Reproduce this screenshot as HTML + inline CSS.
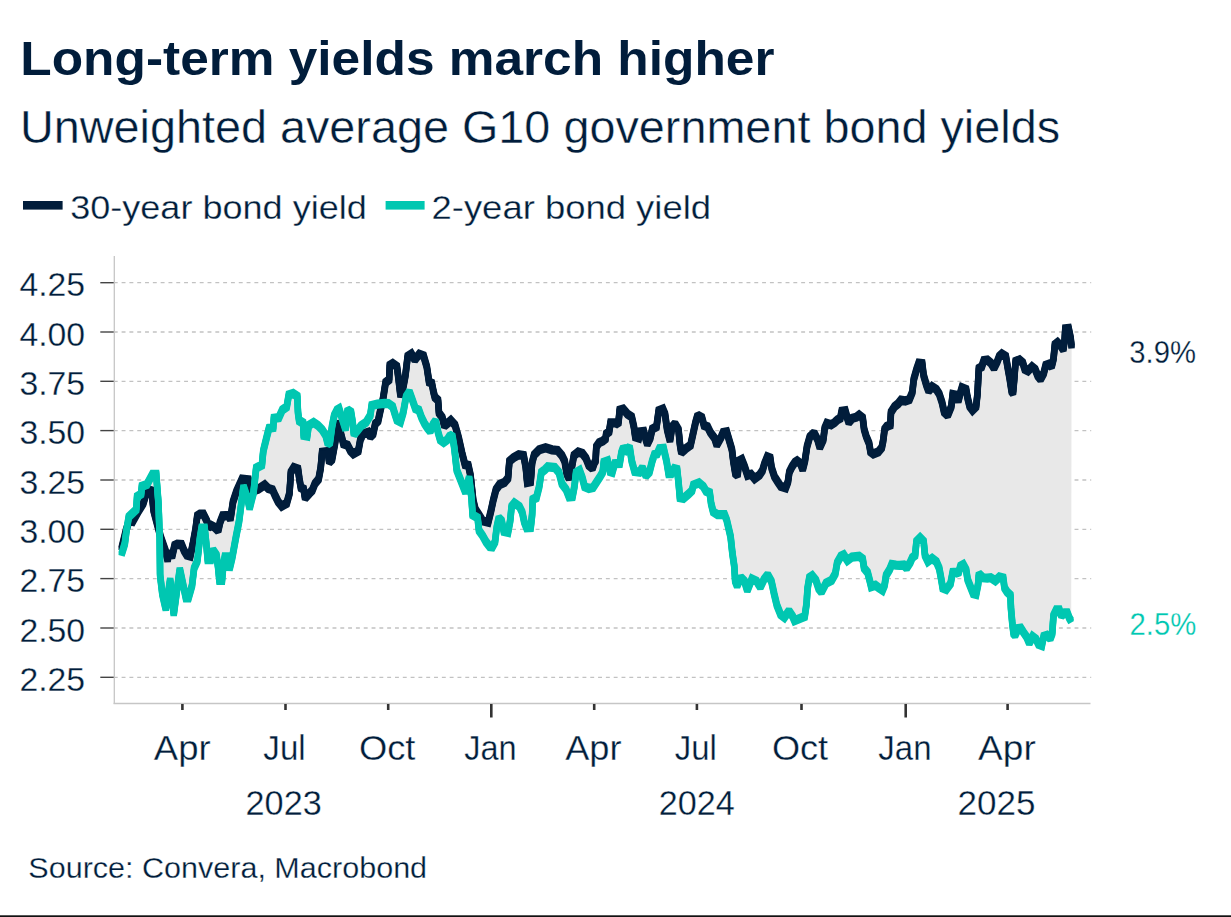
<!DOCTYPE html>
<html><head><meta charset="utf-8"><title>Long-term yields march higher</title>
<style>html,body{margin:0;padding:0;background:#fff}body{width:1231px;height:917px;overflow:hidden}</style></head>
<body>
<svg width="1231" height="917" viewBox="0 0 1231 917" style="display:block;font-family:'Liberation Sans',sans-serif">
<rect width="1231" height="917" fill="#fff"/>
<line x1="113.8" x2="1091.2" y1="282.7" y2="282.7" stroke="#c2c2c2" stroke-width="1.3" stroke-dasharray="3.9 3.911"/>
<line x1="113.8" x2="1091.2" y1="332.0" y2="332.0" stroke="#c2c2c2" stroke-width="1.3" stroke-dasharray="3.9 3.911"/>
<line x1="113.8" x2="1091.2" y1="381.3" y2="381.3" stroke="#c2c2c2" stroke-width="1.3" stroke-dasharray="3.9 3.911"/>
<line x1="113.8" x2="1091.2" y1="430.6" y2="430.6" stroke="#c2c2c2" stroke-width="1.3" stroke-dasharray="3.9 3.911"/>
<line x1="113.8" x2="1091.2" y1="480.0" y2="480.0" stroke="#c2c2c2" stroke-width="1.3" stroke-dasharray="3.9 3.911"/>
<line x1="113.8" x2="1091.2" y1="529.3" y2="529.3" stroke="#c2c2c2" stroke-width="1.3" stroke-dasharray="3.9 3.911"/>
<line x1="113.8" x2="1091.2" y1="578.6" y2="578.6" stroke="#c2c2c2" stroke-width="1.3" stroke-dasharray="3.9 3.911"/>
<line x1="113.8" x2="1091.2" y1="628.0" y2="628.0" stroke="#c2c2c2" stroke-width="1.3" stroke-dasharray="3.9 3.911"/>
<line x1="113.8" x2="1091.2" y1="677.3" y2="677.3" stroke="#c2c2c2" stroke-width="1.3" stroke-dasharray="3.9 3.911"/>
<path d="M121.5,549.0 L126.2,529.8 L129.2,520.7 L132.7,521.4 L138.8,510.6 L143.2,503.6 L145.8,494.9 L149.3,491.4 L151.4,488.8 L153.6,510.6 L160.6,536.8 L165.5,550.8 L167.6,560.3 L169.3,551.6 L172.0,556.9 L174.6,545.5 L177.2,544.3 L181.6,544.6 L184.2,550.8 L186.8,555.1 L190.3,556.0 L192.9,543.8 L195.5,529.8 L197.3,515.8 L199.9,514.1 L203.4,514.1 L206.9,521.1 L208.6,527.2 L211.2,525.4 L214.7,527.2 L218.2,530.7 L219.9,522.8 L222.6,515.8 L228.7,515.5 L230.4,519.3 L233.0,501.9 L236.5,491.4 L242.0,479.2 L248.4,479.9 L249.8,492.0 L258.3,489.1 L264.7,484.9 L268.3,488.4 L272.5,489.8 L275.4,496.2 L278.2,501.9 L281.7,506.1 L286.7,503.3 L289.5,493.4 L290.9,472.1 L293.8,467.6 L298.0,469.0 L299.4,479.2 L300.9,487.7 L303.7,489.1 L305.1,498.3 L309.4,493.4 L312.2,490.5 L315.0,483.5 L318.6,479.2 L320.7,467.9 L322.1,452.3 L327.8,451.6 L329.2,462.2 L332.0,459.4 L334.9,443.8 L338.4,421.8 L340.5,432.4 L343.4,443.8 L347.6,445.2 L350.5,450.9 L353.3,453.7 L358.3,450.9 L360.4,439.5 L363.2,433.9 L368.2,432.4 L370.3,436.7 L373.1,433.9 L375.3,423.9 L378.1,421.1 L380.2,411.2 L383.1,398.4 L385.6,382.5 L389.1,379.7 L389.8,365.2 L392.7,363.5 L396.9,366.4 L398.3,376.8 L399.8,389.6 L400.5,396.0 L403.3,386.8 L405.4,375.4 L407.7,356.3 L411.4,353.9 L414.8,359.8 L419.2,354.2 L423.6,355.9 L426.8,366.8 L429.1,382.1 L431.8,383.2 L433.5,391.9 L434.9,397.4 L438.0,400.2 L439.0,413.0 L442.3,417.5 L444.4,426.0 L447.2,423.6 L450.8,420.5 L455.0,425.0 L458.6,437.8 L462.1,453.4 L465.0,464.7 L468.3,465.4 L470.5,475.4 L473.3,500.9 L475.4,509.4 L479.0,515.0 L482.5,520.7 L488.2,522.1 L491.0,510.8 L493.1,500.9 L496.0,489.5 L499.5,484.6 L504.5,482.4 L508.0,478.2 L509.4,461.2 L513.7,457.6 L518.7,454.8 L523.6,455.5 L525.7,466.8 L527.2,482.4 L530.7,481.7 L532.1,462.6 L534.2,454.8 L539.2,449.8 L545.6,447.7 L552.0,449.8 L557.6,450.5 L561.9,455.5 L564.7,461.2 L566.8,473.9 L569.0,478.5 L571.1,471.1 L573.9,455.5 L578.2,452.0 L582.4,453.4 L586.0,458.3 L588.8,465.4 L592.4,468.5 L594.5,462.6 L595.6,460.9 L596.3,446.7 L599.1,442.7 L602.7,441.0 L605.5,438.9 L606.2,433.9 L609.1,431.8 L610.5,422.9 L615.4,422.9 L618.3,424.0 L619.7,410.1 L623.2,409.1 L627.5,414.1 L631.7,416.9 L633.9,426.8 L635.3,436.8 L638.8,437.9 L640.2,431.8 L643.8,431.4 L645.9,439.6 L647.3,444.1 L650.2,438.2 L652.3,429.0 L656.5,426.8 L658.7,410.8 L662.9,409.1 L665.0,414.1 L667.2,429.7 L670.0,440.7 L672.1,426.8 L675.0,423.7 L678.5,429.7 L679.9,443.9 L681.3,452.6 L685.6,448.8 L690.5,445.3 L692.7,435.4 L695.5,422.6 L697.6,415.2 L701.9,417.6 L704.0,425.4 L707.6,426.8 L710.4,432.5 L714.6,438.2 L716.8,445.0 L721.0,437.5 L723.1,432.5 L726.7,431.8 L731.9,449.5 L733.3,460.9 L735.4,473.6 L737.6,475.5 L739.0,460.9 L741.8,459.4 L744.6,466.5 L747.5,475.3 L751.0,474.3 L754.6,478.6 L759.5,475.0 L762.4,470.8 L764.5,463.7 L767.3,456.9 L770.2,458.0 L771.6,467.9 L774.4,476.5 L777.9,482.1 L780.8,486.4 L785.7,487.8 L787.9,482.1 L789.3,472.2 L792.1,466.5 L795.0,462.3 L797.1,460.9 L800.6,463.7 L802.7,469.6 L804.9,460.9 L807.0,446.7 L809.8,436.8 L814.1,432.8 L817.6,439.6 L819.8,447.4 L823.3,439.6 L824.7,428.3 L826.8,423.3 L831.1,424.7 L834.6,422.6 L837.5,419.8 L840.3,418.3 L841.7,411.3 L845.3,410.8 L847.4,418.3 L848.8,422.6 L852.4,418.3 L856.3,417.2 L859.1,415.0 L862.7,417.9 L864.1,429.2 L866.2,436.3 L869.1,443.4 L870.5,451.9 L873.3,454.0 L878.3,451.9 L881.8,447.6 L883.2,440.5 L884.6,429.2 L886.8,426.4 L890.3,425.0 L891.0,412.2 L894.6,406.5 L898.1,403.7 L900.9,400.2 L905.2,400.9 L909.4,399.4 L912.3,392.4 L913.7,379.6 L916.5,369.7 L918.7,363.3 L922.2,363.7 L923.6,375.4 L926.5,385.3 L928.6,390.9 L932.1,386.7 L936.4,389.5 L939.2,393.8 L942.0,402.3 L944.2,412.2 L947.7,415.5 L951.3,406.5 L952.7,394.5 L956.2,395.2 L958.3,401.1 L960.5,392.4 L961.9,387.7 L966.1,389.5 L967.6,398.0 L969.7,406.5 L972.5,410.1 L976.1,406.5 L977.5,393.8 L978.2,379.6 L978.9,368.3 L981.7,366.8 L983.8,360.5 L987.4,360.0 L990.7,362.8 L994.0,368.3 L997.3,361.5 L999.3,356.3 L1001.9,353.9 L1005.8,356.3 L1007.8,368.0 L1009.7,378.5 L1011.7,391.6 L1013.0,393.2 L1014.3,378.5 L1015.6,361.5 L1019.5,359.9 L1022.8,362.8 L1024.8,369.3 L1028.0,370.9 L1032.0,366.7 L1035.2,369.3 L1037.8,375.9 L1040.5,379.2 L1043.7,373.3 L1045.7,365.4 L1049.0,364.1 L1051.6,366.7 L1053.5,358.9 L1054.9,344.5 L1057.5,342.5 L1060.7,345.8 L1063.4,349.7 L1064.7,339.3 L1065.3,328.8 L1068.6,328.4 L1070.6,337.9 L1071.6,347.1 L1071.2,621.3 L1069.3,618.0 L1067.3,612.8 L1064.7,612.8 L1061.4,615.7 L1059.4,609.9 L1056.2,609.9 L1053.5,615.4 L1052.2,633.7 L1050.3,638.7 L1047.0,635.3 L1043.7,636.4 L1041.8,645.5 L1038.5,644.2 L1035.9,639.0 L1032.6,636.6 L1029.3,643.2 L1026.7,637.0 L1023.5,632.4 L1020.8,628.1 L1018.2,628.5 L1015.0,635.4 L1013.6,633.7 L1012.3,623.3 L1011.0,608.9 L1010.4,595.1 L1007.1,591.9 L1004.5,587.9 L1003.2,578.1 L999.3,577.1 L995.3,580.7 L990.7,577.7 L987.4,578.1 L983.1,577.8 L978.9,573.9 L978.2,583.8 L976.1,594.4 L973.2,593.7 L970.4,586.6 L967.6,579.5 L966.1,569.6 L963.3,564.6 L960.5,566.1 L958.3,573.6 L956.2,572.2 L952.7,572.4 L950.5,583.8 L946.3,589.4 L942.7,588.0 L941.3,579.5 L939.2,568.2 L936.4,561.8 L932.1,558.5 L927.9,561.4 L925.0,555.4 L923.6,541.3 L920.1,537.7 L916.5,541.3 L915.1,555.4 L912.3,557.6 L910.2,562.5 L906.6,568.2 L903.8,565.1 L899.5,565.4 L896.0,565.1 L891.7,564.5 L889.6,569.6 L886.1,575.3 L884.6,585.2 L882.5,590.2 L879.0,588.0 L875.4,585.2 L871.2,586.6 L869.8,580.9 L867.6,572.4 L864.1,568.2 L862.7,559.0 L859.1,556.3 L852.0,557.1 L847.4,560.5 L843.7,554.9 L840.9,556.2 L837.2,562.7 L835.3,573.8 L831.6,580.3 L826.1,583.1 L821.4,592.0 L818.7,588.7 L815.9,580.3 L812.2,575.7 L809.4,577.5 L807.5,588.7 L806.6,603.5 L804.7,616.5 L800.1,618.3 L794.5,620.7 L792.7,616.5 L789.0,610.9 L784.4,617.4 L780.6,614.6 L776.9,605.3 L774.2,594.2 L771.4,581.2 L767.7,574.7 L764.0,579.4 L760.3,587.2 L756.5,581.2 L751.9,579.0 L747.3,590.5 L744.5,581.2 L740.8,577.5 L737.1,585.9 L735.2,581.2 L734.3,566.4 L732.4,553.4 L730.6,536.7 L726.7,520.0 L724.6,514.7 L717.5,514.7 L713.2,511.9 L711.1,503.4 L709.7,492.7 L706.1,491.3 L703.3,486.4 L699.0,482.8 L693.4,485.0 L692.0,490.6 L688.4,494.2 L683.5,498.4 L679.9,497.7 L678.5,482.1 L677.1,469.4 L674.2,468.7 L671.4,473.6 L668.6,473.6 L666.5,460.9 L663.6,448.4 L659.4,448.8 L657.2,453.8 L654.4,454.5 L652.3,460.9 L649.4,472.2 L645.9,475.7 L642.4,467.7 L639.5,472.2 L634.6,471.5 L631.7,460.9 L629.6,447.0 L626.1,450.2 L623.2,447.8 L621.5,452.4 L619.7,463.4 L614.7,463.7 L612.3,472.2 L610.0,471.5 L607.6,460.9 L603.8,462.3 L602.7,472.2 L599.8,477.2 L593.1,487.4 L588.8,488.4 L584.6,486.7 L582.4,478.2 L579.6,470.4 L576.1,472.5 L574.4,486.7 L572.5,496.6 L569.0,496.9 L566.1,489.5 L561.9,483.9 L559.0,472.5 L554.8,467.6 L547.7,466.8 L544.9,469.7 L541.3,472.5 L539.2,486.7 L536.4,497.7 L532.8,499.4 L532.1,515.0 L530.7,527.5 L526.5,527.8 L524.3,522.1 L522.2,512.2 L519.4,506.5 L514.4,503.0 L511.6,506.5 L510.2,520.7 L508.0,532.3 L503.8,531.3 L501.6,520.7 L498.8,517.9 L496.7,527.8 L495.0,542.0 L492.4,546.9 L489.6,546.5 L486.1,542.0 L482.5,535.6 L479.0,530.6 L477.6,517.9 L472.6,515.0 L471.5,498.0 L469.1,477.5 L465.5,492.4 L456.7,470.0 L455.7,460.5 L454.3,447.7 L452.2,435.2 L449.4,436.4 L447.2,439.9 L443.7,442.3 L440.2,439.9 L438.0,432.1 L435.6,420.8 L433.1,424.3 L430.2,431.4 L427.4,427.9 L424.6,423.6 L421.7,417.9 L418.9,410.2 L415.4,408.7 L412.2,399.5 L409.4,391.7 L406.1,396.7 L403.3,412.3 L400.5,421.9 L396.9,420.1 L394.8,413.7 L392.7,406.6 L388.4,403.5 L384.5,403.4 L377.4,404.1 L371.7,405.5 L370.3,415.4 L366.1,422.4 L361.0,425.9 L357.6,430.3 L353.9,434.6 L352.7,422.5 L351.0,412.0 L347.6,409.8 L345.6,429.3 L343.4,422.5 L339.1,408.8 L337.0,410.0 L334.2,415.4 L332.0,426.8 L329.9,442.4 L327.8,443.8 L325.7,435.3 L322.1,429.6 L317.9,425.4 L313.6,422.5 L308.7,425.4 L307.2,436.0 L303.7,435.3 L303.0,421.1 L299.4,422.5 L298.0,412.6 L297.3,396.3 L293.1,393.5 L288.8,394.9 L286.7,406.9 L282.4,409.8 L278.9,417.6 L273.9,418.3 L273.2,427.5 L269.0,428.2 L266.8,436.7 L263.3,450.9 L261.9,465.0 L256.2,467.9 L253.4,493.4 L251.5,500.5 L249.6,508.3 L247.7,499.0 L243.5,486.3 L239.1,521.1 L235.7,538.5 L232.2,557.7 L229.5,569.1 L227.3,556.9 L224.8,556.9 L223.4,564.7 L222.0,580.4 L219.4,580.4 L218.2,568.2 L216.5,555.1 L213.0,549.9 L210.9,559.5 L207.7,559.5 L206.3,543.8 L204.6,528.1 L201.6,528.1 L199.9,538.5 L197.3,561.2 L194.1,568.2 L192.0,585.7 L188.5,597.9 L185.9,597.9 L179.8,569.1 L173.7,614.5 L170.2,579.5 L165.8,609.2 L162.4,594.4 L160.1,575.2 L159.7,538.5 L158.5,503.6 L156.2,474.3 L152.4,474.3 L147.0,484.4 L141.9,486.2 L141.1,494.0 L137.1,496.6 L136.2,509.7 L128.8,516.7 L126.6,529.8 L124.8,543.8 L121.5,554.5 Z" fill="#e8e8e8" stroke="none"/>
<line x1="114.3" x2="114.3" y1="256" y2="704" stroke="#c6c6c6" stroke-width="1.3"/>
<line x1="113.6" x2="1090.5" y1="703.5" y2="703.5" stroke="#c6c6c6" stroke-width="1.3"/>
<line x1="100.3" x2="113.7" y1="282.7" y2="282.7" stroke="#444" stroke-width="1.4"/>
<line x1="100.3" x2="113.7" y1="332.0" y2="332.0" stroke="#444" stroke-width="1.4"/>
<line x1="100.3" x2="113.7" y1="381.3" y2="381.3" stroke="#444" stroke-width="1.4"/>
<line x1="100.3" x2="113.7" y1="430.6" y2="430.6" stroke="#444" stroke-width="1.4"/>
<line x1="100.3" x2="113.7" y1="480.0" y2="480.0" stroke="#444" stroke-width="1.4"/>
<line x1="100.3" x2="113.7" y1="529.3" y2="529.3" stroke="#444" stroke-width="1.4"/>
<line x1="100.3" x2="113.7" y1="578.6" y2="578.6" stroke="#444" stroke-width="1.4"/>
<line x1="100.3" x2="113.7" y1="628.0" y2="628.0" stroke="#444" stroke-width="1.4"/>
<line x1="100.3" x2="113.7" y1="677.3" y2="677.3" stroke="#444" stroke-width="1.4"/>
<line x1="182.4" x2="182.4" y1="704" y2="710" stroke="#333" stroke-width="2.6"/>
<line x1="285.5" x2="285.5" y1="704" y2="710" stroke="#333" stroke-width="2.6"/>
<line x1="388.2" x2="388.2" y1="704" y2="710" stroke="#333" stroke-width="2.6"/>
<line x1="491.3" x2="491.3" y1="704" y2="717.5" stroke="#333" stroke-width="2.6"/>
<line x1="594.2" x2="594.2" y1="704" y2="710" stroke="#333" stroke-width="2.6"/>
<line x1="696.9" x2="696.9" y1="704" y2="710" stroke="#333" stroke-width="2.6"/>
<line x1="801.5" x2="801.5" y1="704" y2="710" stroke="#333" stroke-width="2.6"/>
<line x1="905.7" x2="905.7" y1="704" y2="717.5" stroke="#333" stroke-width="2.6"/>
<line x1="1007.6" x2="1007.6" y1="704" y2="710" stroke="#333" stroke-width="2.6"/>
<g fill="none" stroke="#011d3b" stroke-width="6.5" stroke-linejoin="miter" stroke-miterlimit="1.6" stroke-linecap="butt">
<path transform="translate(0,-1.4)" d="M121.5,549.0 L126.2,529.8 L129.2,520.7 L132.7,521.4 L138.8,510.6 L143.2,503.6 L145.8,494.9 L149.3,491.4 L151.4,488.8 L153.6,510.6 L160.6,536.8 L165.5,550.8 L167.6,560.3 L169.3,551.6 L172.0,556.9 L174.6,545.5 L177.2,544.3 L181.6,544.6 L184.2,550.8 L186.8,555.1 L190.3,556.0 L192.9,543.8 L195.5,529.8 L197.3,515.8 L199.9,514.1 L203.4,514.1 L206.9,521.1 L208.6,527.2 L211.2,525.4 L214.7,527.2 L218.2,530.7 L219.9,522.8 L222.6,515.8 L228.7,515.5 L230.4,519.3 L233.0,501.9 L236.5,491.4 L242.0,479.2 L248.4,479.9 L249.8,492.0 L258.3,489.1 L264.7,484.9 L268.3,488.4 L272.5,489.8 L275.4,496.2 L278.2,501.9 L281.7,506.1 L286.7,503.3 L289.5,493.4 L290.9,472.1 L293.8,467.6 L298.0,469.0 L299.4,479.2 L300.9,487.7 L303.7,489.1 L305.1,498.3 L309.4,493.4 L312.2,490.5 L315.0,483.5 L318.6,479.2 L320.7,467.9 L322.1,452.3 L327.8,451.6 L329.2,462.2 L332.0,459.4 L334.9,443.8 L338.4,421.8 L340.5,432.4 L343.4,443.8 L347.6,445.2 L350.5,450.9 L353.3,453.7 L358.3,450.9 L360.4,439.5 L363.2,433.9 L368.2,432.4 L370.3,436.7 L373.1,433.9 L375.3,423.9 L378.1,421.1 L380.2,411.2 L383.1,398.4 L385.6,382.5 L389.1,379.7 L389.8,365.2 L392.7,363.5 L396.9,366.4 L398.3,376.8 L399.8,389.6 L400.5,396.0 L403.3,386.8 L405.4,375.4 L407.7,356.3 L411.4,353.9 L414.8,359.8 L419.2,354.2 L423.6,355.9 L426.8,366.8 L429.1,382.1 L431.8,383.2 L433.5,391.9 L434.9,397.4 L438.0,400.2 L439.0,413.0 L442.3,417.5 L444.4,426.0 L447.2,423.6 L450.8,420.5 L455.0,425.0 L458.6,437.8 L462.1,453.4 L465.0,464.7 L468.3,465.4 L470.5,475.4 L473.3,500.9 L475.4,509.4 L479.0,515.0 L482.5,520.7 L488.2,522.1 L491.0,510.8 L493.1,500.9 L496.0,489.5 L499.5,484.6 L504.5,482.4 L508.0,478.2 L509.4,461.2 L513.7,457.6 L518.7,454.8 L523.6,455.5 L525.7,466.8 L527.2,482.4 L530.7,481.7 L532.1,462.6 L534.2,454.8 L539.2,449.8 L545.6,447.7 L552.0,449.8 L557.6,450.5 L561.9,455.5 L564.7,461.2 L566.8,473.9 L569.0,478.5 L571.1,471.1 L573.9,455.5 L578.2,452.0 L582.4,453.4 L586.0,458.3 L588.8,465.4 L592.4,468.5 L594.5,462.6 L595.6,460.9 L596.3,446.7 L599.1,442.7 L602.7,441.0 L605.5,438.9 L606.2,433.9 L609.1,431.8 L610.5,422.9 L615.4,422.9 L618.3,424.0 L619.7,410.1 L623.2,409.1 L627.5,414.1 L631.7,416.9 L633.9,426.8 L635.3,436.8 L638.8,437.9 L640.2,431.8 L643.8,431.4 L645.9,439.6 L647.3,444.1 L650.2,438.2 L652.3,429.0 L656.5,426.8 L658.7,410.8 L662.9,409.1 L665.0,414.1 L667.2,429.7 L670.0,440.7 L672.1,426.8 L675.0,423.7 L678.5,429.7 L679.9,443.9 L681.3,452.6 L685.6,448.8 L690.5,445.3 L692.7,435.4 L695.5,422.6 L697.6,415.2 L701.9,417.6 L704.0,425.4 L707.6,426.8 L710.4,432.5 L714.6,438.2 L716.8,445.0 L721.0,437.5 L723.1,432.5 L726.7,431.8 L731.9,449.5 L733.3,460.9 L735.4,473.6 L737.6,475.5 L739.0,460.9 L741.8,459.4 L744.6,466.5 L747.5,475.3 L751.0,474.3 L754.6,478.6 L759.5,475.0 L762.4,470.8 L764.5,463.7 L767.3,456.9 L770.2,458.0 L771.6,467.9 L774.4,476.5 L777.9,482.1 L780.8,486.4 L785.7,487.8 L787.9,482.1 L789.3,472.2 L792.1,466.5 L795.0,462.3 L797.1,460.9 L800.6,463.7 L802.7,469.6 L804.9,460.9 L807.0,446.7 L809.8,436.8 L814.1,432.8 L817.6,439.6 L819.8,447.4 L823.3,439.6 L824.7,428.3 L826.8,423.3 L831.1,424.7 L834.6,422.6 L837.5,419.8 L840.3,418.3 L841.7,411.3 L845.3,410.8 L847.4,418.3 L848.8,422.6 L852.4,418.3 L856.3,417.2 L859.1,415.0 L862.7,417.9 L864.1,429.2 L866.2,436.3 L869.1,443.4 L870.5,451.9 L873.3,454.0 L878.3,451.9 L881.8,447.6 L883.2,440.5 L884.6,429.2 L886.8,426.4 L890.3,425.0 L891.0,412.2 L894.6,406.5 L898.1,403.7 L900.9,400.2 L905.2,400.9 L909.4,399.4 L912.3,392.4 L913.7,379.6 L916.5,369.7 L918.7,363.3 L922.2,363.7 L923.6,375.4 L926.5,385.3 L928.6,390.9 L932.1,386.7 L936.4,389.5 L939.2,393.8 L942.0,402.3 L944.2,412.2 L947.7,415.5 L951.3,406.5 L952.7,394.5 L956.2,395.2 L958.3,401.1 L960.5,392.4 L961.9,387.7 L966.1,389.5 L967.6,398.0 L969.7,406.5 L972.5,410.1 L976.1,406.5 L977.5,393.8 L978.2,379.6 L978.9,368.3 L981.7,366.8 L983.8,360.5 L987.4,360.0 L990.7,362.8 L994.0,368.3 L997.3,361.5 L999.3,356.3 L1001.9,353.9 L1005.8,356.3 L1007.8,368.0 L1009.7,378.5 L1011.7,391.6 L1013.0,393.2 L1014.3,378.5 L1015.6,361.5 L1019.5,359.9 L1022.8,362.8 L1024.8,369.3 L1028.0,370.9 L1032.0,366.7 L1035.2,369.3 L1037.8,375.9 L1040.5,379.2 L1043.7,373.3 L1045.7,365.4 L1049.0,364.1 L1051.6,366.7 L1053.5,358.9 L1054.9,344.5 L1057.5,342.5 L1060.7,345.8 L1063.4,349.7 L1064.7,339.3 L1065.3,328.8 L1068.6,328.4 L1070.6,337.9 L1071.6,347.1"/>
<path transform="translate(0,0)" d="M121.5,549.0 L126.2,529.8 L129.2,520.7 L132.7,521.4 L138.8,510.6 L143.2,503.6 L145.8,494.9 L149.3,491.4 L151.4,488.8 L153.6,510.6 L160.6,536.8 L165.5,550.8 L167.6,560.3 L169.3,551.6 L172.0,556.9 L174.6,545.5 L177.2,544.3 L181.6,544.6 L184.2,550.8 L186.8,555.1 L190.3,556.0 L192.9,543.8 L195.5,529.8 L197.3,515.8 L199.9,514.1 L203.4,514.1 L206.9,521.1 L208.6,527.2 L211.2,525.4 L214.7,527.2 L218.2,530.7 L219.9,522.8 L222.6,515.8 L228.7,515.5 L230.4,519.3 L233.0,501.9 L236.5,491.4 L242.0,479.2 L248.4,479.9 L249.8,492.0 L258.3,489.1 L264.7,484.9 L268.3,488.4 L272.5,489.8 L275.4,496.2 L278.2,501.9 L281.7,506.1 L286.7,503.3 L289.5,493.4 L290.9,472.1 L293.8,467.6 L298.0,469.0 L299.4,479.2 L300.9,487.7 L303.7,489.1 L305.1,498.3 L309.4,493.4 L312.2,490.5 L315.0,483.5 L318.6,479.2 L320.7,467.9 L322.1,452.3 L327.8,451.6 L329.2,462.2 L332.0,459.4 L334.9,443.8 L338.4,421.8 L340.5,432.4 L343.4,443.8 L347.6,445.2 L350.5,450.9 L353.3,453.7 L358.3,450.9 L360.4,439.5 L363.2,433.9 L368.2,432.4 L370.3,436.7 L373.1,433.9 L375.3,423.9 L378.1,421.1 L380.2,411.2 L383.1,398.4 L385.6,382.5 L389.1,379.7 L389.8,365.2 L392.7,363.5 L396.9,366.4 L398.3,376.8 L399.8,389.6 L400.5,396.0 L403.3,386.8 L405.4,375.4 L407.7,356.3 L411.4,353.9 L414.8,359.8 L419.2,354.2 L423.6,355.9 L426.8,366.8 L429.1,382.1 L431.8,383.2 L433.5,391.9 L434.9,397.4 L438.0,400.2 L439.0,413.0 L442.3,417.5 L444.4,426.0 L447.2,423.6 L450.8,420.5 L455.0,425.0 L458.6,437.8 L462.1,453.4 L465.0,464.7 L468.3,465.4 L470.5,475.4 L473.3,500.9 L475.4,509.4 L479.0,515.0 L482.5,520.7 L488.2,522.1 L491.0,510.8 L493.1,500.9 L496.0,489.5 L499.5,484.6 L504.5,482.4 L508.0,478.2 L509.4,461.2 L513.7,457.6 L518.7,454.8 L523.6,455.5 L525.7,466.8 L527.2,482.4 L530.7,481.7 L532.1,462.6 L534.2,454.8 L539.2,449.8 L545.6,447.7 L552.0,449.8 L557.6,450.5 L561.9,455.5 L564.7,461.2 L566.8,473.9 L569.0,478.5 L571.1,471.1 L573.9,455.5 L578.2,452.0 L582.4,453.4 L586.0,458.3 L588.8,465.4 L592.4,468.5 L594.5,462.6 L595.6,460.9 L596.3,446.7 L599.1,442.7 L602.7,441.0 L605.5,438.9 L606.2,433.9 L609.1,431.8 L610.5,422.9 L615.4,422.9 L618.3,424.0 L619.7,410.1 L623.2,409.1 L627.5,414.1 L631.7,416.9 L633.9,426.8 L635.3,436.8 L638.8,437.9 L640.2,431.8 L643.8,431.4 L645.9,439.6 L647.3,444.1 L650.2,438.2 L652.3,429.0 L656.5,426.8 L658.7,410.8 L662.9,409.1 L665.0,414.1 L667.2,429.7 L670.0,440.7 L672.1,426.8 L675.0,423.7 L678.5,429.7 L679.9,443.9 L681.3,452.6 L685.6,448.8 L690.5,445.3 L692.7,435.4 L695.5,422.6 L697.6,415.2 L701.9,417.6 L704.0,425.4 L707.6,426.8 L710.4,432.5 L714.6,438.2 L716.8,445.0 L721.0,437.5 L723.1,432.5 L726.7,431.8 L731.9,449.5 L733.3,460.9 L735.4,473.6 L737.6,475.5 L739.0,460.9 L741.8,459.4 L744.6,466.5 L747.5,475.3 L751.0,474.3 L754.6,478.6 L759.5,475.0 L762.4,470.8 L764.5,463.7 L767.3,456.9 L770.2,458.0 L771.6,467.9 L774.4,476.5 L777.9,482.1 L780.8,486.4 L785.7,487.8 L787.9,482.1 L789.3,472.2 L792.1,466.5 L795.0,462.3 L797.1,460.9 L800.6,463.7 L802.7,469.6 L804.9,460.9 L807.0,446.7 L809.8,436.8 L814.1,432.8 L817.6,439.6 L819.8,447.4 L823.3,439.6 L824.7,428.3 L826.8,423.3 L831.1,424.7 L834.6,422.6 L837.5,419.8 L840.3,418.3 L841.7,411.3 L845.3,410.8 L847.4,418.3 L848.8,422.6 L852.4,418.3 L856.3,417.2 L859.1,415.0 L862.7,417.9 L864.1,429.2 L866.2,436.3 L869.1,443.4 L870.5,451.9 L873.3,454.0 L878.3,451.9 L881.8,447.6 L883.2,440.5 L884.6,429.2 L886.8,426.4 L890.3,425.0 L891.0,412.2 L894.6,406.5 L898.1,403.7 L900.9,400.2 L905.2,400.9 L909.4,399.4 L912.3,392.4 L913.7,379.6 L916.5,369.7 L918.7,363.3 L922.2,363.7 L923.6,375.4 L926.5,385.3 L928.6,390.9 L932.1,386.7 L936.4,389.5 L939.2,393.8 L942.0,402.3 L944.2,412.2 L947.7,415.5 L951.3,406.5 L952.7,394.5 L956.2,395.2 L958.3,401.1 L960.5,392.4 L961.9,387.7 L966.1,389.5 L967.6,398.0 L969.7,406.5 L972.5,410.1 L976.1,406.5 L977.5,393.8 L978.2,379.6 L978.9,368.3 L981.7,366.8 L983.8,360.5 L987.4,360.0 L990.7,362.8 L994.0,368.3 L997.3,361.5 L999.3,356.3 L1001.9,353.9 L1005.8,356.3 L1007.8,368.0 L1009.7,378.5 L1011.7,391.6 L1013.0,393.2 L1014.3,378.5 L1015.6,361.5 L1019.5,359.9 L1022.8,362.8 L1024.8,369.3 L1028.0,370.9 L1032.0,366.7 L1035.2,369.3 L1037.8,375.9 L1040.5,379.2 L1043.7,373.3 L1045.7,365.4 L1049.0,364.1 L1051.6,366.7 L1053.5,358.9 L1054.9,344.5 L1057.5,342.5 L1060.7,345.8 L1063.4,349.7 L1064.7,339.3 L1065.3,328.8 L1068.6,328.4 L1070.6,337.9 L1071.6,347.1"/>
<path transform="translate(0,1.4)" d="M121.5,549.0 L126.2,529.8 L129.2,520.7 L132.7,521.4 L138.8,510.6 L143.2,503.6 L145.8,494.9 L149.3,491.4 L151.4,488.8 L153.6,510.6 L160.6,536.8 L165.5,550.8 L167.6,560.3 L169.3,551.6 L172.0,556.9 L174.6,545.5 L177.2,544.3 L181.6,544.6 L184.2,550.8 L186.8,555.1 L190.3,556.0 L192.9,543.8 L195.5,529.8 L197.3,515.8 L199.9,514.1 L203.4,514.1 L206.9,521.1 L208.6,527.2 L211.2,525.4 L214.7,527.2 L218.2,530.7 L219.9,522.8 L222.6,515.8 L228.7,515.5 L230.4,519.3 L233.0,501.9 L236.5,491.4 L242.0,479.2 L248.4,479.9 L249.8,492.0 L258.3,489.1 L264.7,484.9 L268.3,488.4 L272.5,489.8 L275.4,496.2 L278.2,501.9 L281.7,506.1 L286.7,503.3 L289.5,493.4 L290.9,472.1 L293.8,467.6 L298.0,469.0 L299.4,479.2 L300.9,487.7 L303.7,489.1 L305.1,498.3 L309.4,493.4 L312.2,490.5 L315.0,483.5 L318.6,479.2 L320.7,467.9 L322.1,452.3 L327.8,451.6 L329.2,462.2 L332.0,459.4 L334.9,443.8 L338.4,421.8 L340.5,432.4 L343.4,443.8 L347.6,445.2 L350.5,450.9 L353.3,453.7 L358.3,450.9 L360.4,439.5 L363.2,433.9 L368.2,432.4 L370.3,436.7 L373.1,433.9 L375.3,423.9 L378.1,421.1 L380.2,411.2 L383.1,398.4 L385.6,382.5 L389.1,379.7 L389.8,365.2 L392.7,363.5 L396.9,366.4 L398.3,376.8 L399.8,389.6 L400.5,396.0 L403.3,386.8 L405.4,375.4 L407.7,356.3 L411.4,353.9 L414.8,359.8 L419.2,354.2 L423.6,355.9 L426.8,366.8 L429.1,382.1 L431.8,383.2 L433.5,391.9 L434.9,397.4 L438.0,400.2 L439.0,413.0 L442.3,417.5 L444.4,426.0 L447.2,423.6 L450.8,420.5 L455.0,425.0 L458.6,437.8 L462.1,453.4 L465.0,464.7 L468.3,465.4 L470.5,475.4 L473.3,500.9 L475.4,509.4 L479.0,515.0 L482.5,520.7 L488.2,522.1 L491.0,510.8 L493.1,500.9 L496.0,489.5 L499.5,484.6 L504.5,482.4 L508.0,478.2 L509.4,461.2 L513.7,457.6 L518.7,454.8 L523.6,455.5 L525.7,466.8 L527.2,482.4 L530.7,481.7 L532.1,462.6 L534.2,454.8 L539.2,449.8 L545.6,447.7 L552.0,449.8 L557.6,450.5 L561.9,455.5 L564.7,461.2 L566.8,473.9 L569.0,478.5 L571.1,471.1 L573.9,455.5 L578.2,452.0 L582.4,453.4 L586.0,458.3 L588.8,465.4 L592.4,468.5 L594.5,462.6 L595.6,460.9 L596.3,446.7 L599.1,442.7 L602.7,441.0 L605.5,438.9 L606.2,433.9 L609.1,431.8 L610.5,422.9 L615.4,422.9 L618.3,424.0 L619.7,410.1 L623.2,409.1 L627.5,414.1 L631.7,416.9 L633.9,426.8 L635.3,436.8 L638.8,437.9 L640.2,431.8 L643.8,431.4 L645.9,439.6 L647.3,444.1 L650.2,438.2 L652.3,429.0 L656.5,426.8 L658.7,410.8 L662.9,409.1 L665.0,414.1 L667.2,429.7 L670.0,440.7 L672.1,426.8 L675.0,423.7 L678.5,429.7 L679.9,443.9 L681.3,452.6 L685.6,448.8 L690.5,445.3 L692.7,435.4 L695.5,422.6 L697.6,415.2 L701.9,417.6 L704.0,425.4 L707.6,426.8 L710.4,432.5 L714.6,438.2 L716.8,445.0 L721.0,437.5 L723.1,432.5 L726.7,431.8 L731.9,449.5 L733.3,460.9 L735.4,473.6 L737.6,475.5 L739.0,460.9 L741.8,459.4 L744.6,466.5 L747.5,475.3 L751.0,474.3 L754.6,478.6 L759.5,475.0 L762.4,470.8 L764.5,463.7 L767.3,456.9 L770.2,458.0 L771.6,467.9 L774.4,476.5 L777.9,482.1 L780.8,486.4 L785.7,487.8 L787.9,482.1 L789.3,472.2 L792.1,466.5 L795.0,462.3 L797.1,460.9 L800.6,463.7 L802.7,469.6 L804.9,460.9 L807.0,446.7 L809.8,436.8 L814.1,432.8 L817.6,439.6 L819.8,447.4 L823.3,439.6 L824.7,428.3 L826.8,423.3 L831.1,424.7 L834.6,422.6 L837.5,419.8 L840.3,418.3 L841.7,411.3 L845.3,410.8 L847.4,418.3 L848.8,422.6 L852.4,418.3 L856.3,417.2 L859.1,415.0 L862.7,417.9 L864.1,429.2 L866.2,436.3 L869.1,443.4 L870.5,451.9 L873.3,454.0 L878.3,451.9 L881.8,447.6 L883.2,440.5 L884.6,429.2 L886.8,426.4 L890.3,425.0 L891.0,412.2 L894.6,406.5 L898.1,403.7 L900.9,400.2 L905.2,400.9 L909.4,399.4 L912.3,392.4 L913.7,379.6 L916.5,369.7 L918.7,363.3 L922.2,363.7 L923.6,375.4 L926.5,385.3 L928.6,390.9 L932.1,386.7 L936.4,389.5 L939.2,393.8 L942.0,402.3 L944.2,412.2 L947.7,415.5 L951.3,406.5 L952.7,394.5 L956.2,395.2 L958.3,401.1 L960.5,392.4 L961.9,387.7 L966.1,389.5 L967.6,398.0 L969.7,406.5 L972.5,410.1 L976.1,406.5 L977.5,393.8 L978.2,379.6 L978.9,368.3 L981.7,366.8 L983.8,360.5 L987.4,360.0 L990.7,362.8 L994.0,368.3 L997.3,361.5 L999.3,356.3 L1001.9,353.9 L1005.8,356.3 L1007.8,368.0 L1009.7,378.5 L1011.7,391.6 L1013.0,393.2 L1014.3,378.5 L1015.6,361.5 L1019.5,359.9 L1022.8,362.8 L1024.8,369.3 L1028.0,370.9 L1032.0,366.7 L1035.2,369.3 L1037.8,375.9 L1040.5,379.2 L1043.7,373.3 L1045.7,365.4 L1049.0,364.1 L1051.6,366.7 L1053.5,358.9 L1054.9,344.5 L1057.5,342.5 L1060.7,345.8 L1063.4,349.7 L1064.7,339.3 L1065.3,328.8 L1068.6,328.4 L1070.6,337.9 L1071.6,347.1"/>
</g>
<g fill="none" stroke="#00c7b1" stroke-width="6.5" stroke-linejoin="miter" stroke-miterlimit="1.6" stroke-linecap="butt">
<path transform="translate(0,-1.4)" d="M121.5,554.5 L124.8,543.8 L126.6,529.8 L128.8,516.7 L136.2,509.7 L137.1,496.6 L141.1,494.0 L141.9,486.2 L147.0,484.4 L152.4,474.3 L156.2,474.3 L158.5,503.6 L159.7,538.5 L160.1,575.2 L162.4,594.4 L165.8,609.2 L170.2,579.5 L173.7,614.5 L179.8,569.1 L185.9,597.9 L188.5,597.9 L192.0,585.7 L194.1,568.2 L197.3,561.2 L199.9,538.5 L201.6,528.1 L204.6,528.1 L206.3,543.8 L207.7,559.5 L210.9,559.5 L213.0,549.9 L216.5,555.1 L218.2,568.2 L219.4,580.4 L222.0,580.4 L223.4,564.7 L224.8,556.9 L227.3,556.9 L229.5,569.1 L232.2,557.7 L235.7,538.5 L239.1,521.1 L243.5,486.3 L247.7,499.0 L249.6,508.3 L251.5,500.5 L253.4,493.4 L256.2,467.9 L261.9,465.0 L263.3,450.9 L266.8,436.7 L269.0,428.2 L273.2,427.5 L273.9,418.3 L278.9,417.6 L282.4,409.8 L286.7,406.9 L288.8,394.9 L293.1,393.5 L297.3,396.3 L298.0,412.6 L299.4,422.5 L303.0,421.1 L303.7,435.3 L307.2,436.0 L308.7,425.4 L313.6,422.5 L317.9,425.4 L322.1,429.6 L325.7,435.3 L327.8,443.8 L329.9,442.4 L332.0,426.8 L334.2,415.4 L337.0,410.0 L339.1,408.8 L343.4,422.5 L345.6,429.3 L347.6,409.8 L351.0,412.0 L352.7,422.5 L353.9,434.6 L357.6,430.3 L361.0,425.9 L366.1,422.4 L370.3,415.4 L371.7,405.5 L377.4,404.1 L384.5,403.4 L388.4,403.5 L392.7,406.6 L394.8,413.7 L396.9,420.1 L400.5,421.9 L403.3,412.3 L406.1,396.7 L409.4,391.7 L412.2,399.5 L415.4,408.7 L418.9,410.2 L421.7,417.9 L424.6,423.6 L427.4,427.9 L430.2,431.4 L433.1,424.3 L435.6,420.8 L438.0,432.1 L440.2,439.9 L443.7,442.3 L447.2,439.9 L449.4,436.4 L452.2,435.2 L454.3,447.7 L455.7,460.5 L456.7,470.0 L465.5,492.4 L469.1,477.5 L471.5,498.0 L472.6,515.0 L477.6,517.9 L479.0,530.6 L482.5,535.6 L486.1,542.0 L489.6,546.5 L492.4,546.9 L495.0,542.0 L496.7,527.8 L498.8,517.9 L501.6,520.7 L503.8,531.3 L508.0,532.3 L510.2,520.7 L511.6,506.5 L514.4,503.0 L519.4,506.5 L522.2,512.2 L524.3,522.1 L526.5,527.8 L530.7,527.5 L532.1,515.0 L532.8,499.4 L536.4,497.7 L539.2,486.7 L541.3,472.5 L544.9,469.7 L547.7,466.8 L554.8,467.6 L559.0,472.5 L561.9,483.9 L566.1,489.5 L569.0,496.9 L572.5,496.6 L574.4,486.7 L576.1,472.5 L579.6,470.4 L582.4,478.2 L584.6,486.7 L588.8,488.4 L593.1,487.4 L599.8,477.2 L602.7,472.2 L603.8,462.3 L607.6,460.9 L610.0,471.5 L612.3,472.2 L614.7,463.7 L619.7,463.4 L621.5,452.4 L623.2,447.8 L626.1,450.2 L629.6,447.0 L631.7,460.9 L634.6,471.5 L639.5,472.2 L642.4,467.7 L645.9,475.7 L649.4,472.2 L652.3,460.9 L654.4,454.5 L657.2,453.8 L659.4,448.8 L663.6,448.4 L666.5,460.9 L668.6,473.6 L671.4,473.6 L674.2,468.7 L677.1,469.4 L678.5,482.1 L679.9,497.7 L683.5,498.4 L688.4,494.2 L692.0,490.6 L693.4,485.0 L699.0,482.8 L703.3,486.4 L706.1,491.3 L709.7,492.7 L711.1,503.4 L713.2,511.9 L717.5,514.7 L724.6,514.7 L726.7,520.0 L730.6,536.7 L732.4,553.4 L734.3,566.4 L735.2,581.2 L737.1,585.9 L740.8,577.5 L744.5,581.2 L747.3,590.5 L751.9,579.0 L756.5,581.2 L760.3,587.2 L764.0,579.4 L767.7,574.7 L771.4,581.2 L774.2,594.2 L776.9,605.3 L780.6,614.6 L784.4,617.4 L789.0,610.9 L792.7,616.5 L794.5,620.7 L800.1,618.3 L804.7,616.5 L806.6,603.5 L807.5,588.7 L809.4,577.5 L812.2,575.7 L815.9,580.3 L818.7,588.7 L821.4,592.0 L826.1,583.1 L831.6,580.3 L835.3,573.8 L837.2,562.7 L840.9,556.2 L843.7,554.9 L847.4,560.5 L852.0,557.1 L859.1,556.3 L862.7,559.0 L864.1,568.2 L867.6,572.4 L869.8,580.9 L871.2,586.6 L875.4,585.2 L879.0,588.0 L882.5,590.2 L884.6,585.2 L886.1,575.3 L889.6,569.6 L891.7,564.5 L896.0,565.1 L899.5,565.4 L903.8,565.1 L906.6,568.2 L910.2,562.5 L912.3,557.6 L915.1,555.4 L916.5,541.3 L920.1,537.7 L923.6,541.3 L925.0,555.4 L927.9,561.4 L932.1,558.5 L936.4,561.8 L939.2,568.2 L941.3,579.5 L942.7,588.0 L946.3,589.4 L950.5,583.8 L952.7,572.4 L956.2,572.2 L958.3,573.6 L960.5,566.1 L963.3,564.6 L966.1,569.6 L967.6,579.5 L970.4,586.6 L973.2,593.7 L976.1,594.4 L978.2,583.8 L978.9,573.9 L983.1,577.8 L987.4,578.1 L990.7,577.7 L995.3,580.7 L999.3,577.1 L1003.2,578.1 L1004.5,587.9 L1007.1,591.9 L1010.4,595.1 L1011.0,608.9 L1012.3,623.3 L1013.6,633.7 L1015.0,635.4 L1018.2,628.5 L1020.8,628.1 L1023.5,632.4 L1026.7,637.0 L1029.3,643.2 L1032.6,636.6 L1035.9,639.0 L1038.5,644.2 L1041.8,645.5 L1043.7,636.4 L1047.0,635.3 L1050.3,638.7 L1052.2,633.7 L1053.5,615.4 L1056.2,609.9 L1059.4,609.9 L1061.4,615.7 L1064.7,612.8 L1067.3,612.8 L1069.3,618.0 L1071.2,621.3"/>
<path transform="translate(0,0)" d="M121.5,554.5 L124.8,543.8 L126.6,529.8 L128.8,516.7 L136.2,509.7 L137.1,496.6 L141.1,494.0 L141.9,486.2 L147.0,484.4 L152.4,474.3 L156.2,474.3 L158.5,503.6 L159.7,538.5 L160.1,575.2 L162.4,594.4 L165.8,609.2 L170.2,579.5 L173.7,614.5 L179.8,569.1 L185.9,597.9 L188.5,597.9 L192.0,585.7 L194.1,568.2 L197.3,561.2 L199.9,538.5 L201.6,528.1 L204.6,528.1 L206.3,543.8 L207.7,559.5 L210.9,559.5 L213.0,549.9 L216.5,555.1 L218.2,568.2 L219.4,580.4 L222.0,580.4 L223.4,564.7 L224.8,556.9 L227.3,556.9 L229.5,569.1 L232.2,557.7 L235.7,538.5 L239.1,521.1 L243.5,486.3 L247.7,499.0 L249.6,508.3 L251.5,500.5 L253.4,493.4 L256.2,467.9 L261.9,465.0 L263.3,450.9 L266.8,436.7 L269.0,428.2 L273.2,427.5 L273.9,418.3 L278.9,417.6 L282.4,409.8 L286.7,406.9 L288.8,394.9 L293.1,393.5 L297.3,396.3 L298.0,412.6 L299.4,422.5 L303.0,421.1 L303.7,435.3 L307.2,436.0 L308.7,425.4 L313.6,422.5 L317.9,425.4 L322.1,429.6 L325.7,435.3 L327.8,443.8 L329.9,442.4 L332.0,426.8 L334.2,415.4 L337.0,410.0 L339.1,408.8 L343.4,422.5 L345.6,429.3 L347.6,409.8 L351.0,412.0 L352.7,422.5 L353.9,434.6 L357.6,430.3 L361.0,425.9 L366.1,422.4 L370.3,415.4 L371.7,405.5 L377.4,404.1 L384.5,403.4 L388.4,403.5 L392.7,406.6 L394.8,413.7 L396.9,420.1 L400.5,421.9 L403.3,412.3 L406.1,396.7 L409.4,391.7 L412.2,399.5 L415.4,408.7 L418.9,410.2 L421.7,417.9 L424.6,423.6 L427.4,427.9 L430.2,431.4 L433.1,424.3 L435.6,420.8 L438.0,432.1 L440.2,439.9 L443.7,442.3 L447.2,439.9 L449.4,436.4 L452.2,435.2 L454.3,447.7 L455.7,460.5 L456.7,470.0 L465.5,492.4 L469.1,477.5 L471.5,498.0 L472.6,515.0 L477.6,517.9 L479.0,530.6 L482.5,535.6 L486.1,542.0 L489.6,546.5 L492.4,546.9 L495.0,542.0 L496.7,527.8 L498.8,517.9 L501.6,520.7 L503.8,531.3 L508.0,532.3 L510.2,520.7 L511.6,506.5 L514.4,503.0 L519.4,506.5 L522.2,512.2 L524.3,522.1 L526.5,527.8 L530.7,527.5 L532.1,515.0 L532.8,499.4 L536.4,497.7 L539.2,486.7 L541.3,472.5 L544.9,469.7 L547.7,466.8 L554.8,467.6 L559.0,472.5 L561.9,483.9 L566.1,489.5 L569.0,496.9 L572.5,496.6 L574.4,486.7 L576.1,472.5 L579.6,470.4 L582.4,478.2 L584.6,486.7 L588.8,488.4 L593.1,487.4 L599.8,477.2 L602.7,472.2 L603.8,462.3 L607.6,460.9 L610.0,471.5 L612.3,472.2 L614.7,463.7 L619.7,463.4 L621.5,452.4 L623.2,447.8 L626.1,450.2 L629.6,447.0 L631.7,460.9 L634.6,471.5 L639.5,472.2 L642.4,467.7 L645.9,475.7 L649.4,472.2 L652.3,460.9 L654.4,454.5 L657.2,453.8 L659.4,448.8 L663.6,448.4 L666.5,460.9 L668.6,473.6 L671.4,473.6 L674.2,468.7 L677.1,469.4 L678.5,482.1 L679.9,497.7 L683.5,498.4 L688.4,494.2 L692.0,490.6 L693.4,485.0 L699.0,482.8 L703.3,486.4 L706.1,491.3 L709.7,492.7 L711.1,503.4 L713.2,511.9 L717.5,514.7 L724.6,514.7 L726.7,520.0 L730.6,536.7 L732.4,553.4 L734.3,566.4 L735.2,581.2 L737.1,585.9 L740.8,577.5 L744.5,581.2 L747.3,590.5 L751.9,579.0 L756.5,581.2 L760.3,587.2 L764.0,579.4 L767.7,574.7 L771.4,581.2 L774.2,594.2 L776.9,605.3 L780.6,614.6 L784.4,617.4 L789.0,610.9 L792.7,616.5 L794.5,620.7 L800.1,618.3 L804.7,616.5 L806.6,603.5 L807.5,588.7 L809.4,577.5 L812.2,575.7 L815.9,580.3 L818.7,588.7 L821.4,592.0 L826.1,583.1 L831.6,580.3 L835.3,573.8 L837.2,562.7 L840.9,556.2 L843.7,554.9 L847.4,560.5 L852.0,557.1 L859.1,556.3 L862.7,559.0 L864.1,568.2 L867.6,572.4 L869.8,580.9 L871.2,586.6 L875.4,585.2 L879.0,588.0 L882.5,590.2 L884.6,585.2 L886.1,575.3 L889.6,569.6 L891.7,564.5 L896.0,565.1 L899.5,565.4 L903.8,565.1 L906.6,568.2 L910.2,562.5 L912.3,557.6 L915.1,555.4 L916.5,541.3 L920.1,537.7 L923.6,541.3 L925.0,555.4 L927.9,561.4 L932.1,558.5 L936.4,561.8 L939.2,568.2 L941.3,579.5 L942.7,588.0 L946.3,589.4 L950.5,583.8 L952.7,572.4 L956.2,572.2 L958.3,573.6 L960.5,566.1 L963.3,564.6 L966.1,569.6 L967.6,579.5 L970.4,586.6 L973.2,593.7 L976.1,594.4 L978.2,583.8 L978.9,573.9 L983.1,577.8 L987.4,578.1 L990.7,577.7 L995.3,580.7 L999.3,577.1 L1003.2,578.1 L1004.5,587.9 L1007.1,591.9 L1010.4,595.1 L1011.0,608.9 L1012.3,623.3 L1013.6,633.7 L1015.0,635.4 L1018.2,628.5 L1020.8,628.1 L1023.5,632.4 L1026.7,637.0 L1029.3,643.2 L1032.6,636.6 L1035.9,639.0 L1038.5,644.2 L1041.8,645.5 L1043.7,636.4 L1047.0,635.3 L1050.3,638.7 L1052.2,633.7 L1053.5,615.4 L1056.2,609.9 L1059.4,609.9 L1061.4,615.7 L1064.7,612.8 L1067.3,612.8 L1069.3,618.0 L1071.2,621.3"/>
<path transform="translate(0,1.4)" d="M121.5,554.5 L124.8,543.8 L126.6,529.8 L128.8,516.7 L136.2,509.7 L137.1,496.6 L141.1,494.0 L141.9,486.2 L147.0,484.4 L152.4,474.3 L156.2,474.3 L158.5,503.6 L159.7,538.5 L160.1,575.2 L162.4,594.4 L165.8,609.2 L170.2,579.5 L173.7,614.5 L179.8,569.1 L185.9,597.9 L188.5,597.9 L192.0,585.7 L194.1,568.2 L197.3,561.2 L199.9,538.5 L201.6,528.1 L204.6,528.1 L206.3,543.8 L207.7,559.5 L210.9,559.5 L213.0,549.9 L216.5,555.1 L218.2,568.2 L219.4,580.4 L222.0,580.4 L223.4,564.7 L224.8,556.9 L227.3,556.9 L229.5,569.1 L232.2,557.7 L235.7,538.5 L239.1,521.1 L243.5,486.3 L247.7,499.0 L249.6,508.3 L251.5,500.5 L253.4,493.4 L256.2,467.9 L261.9,465.0 L263.3,450.9 L266.8,436.7 L269.0,428.2 L273.2,427.5 L273.9,418.3 L278.9,417.6 L282.4,409.8 L286.7,406.9 L288.8,394.9 L293.1,393.5 L297.3,396.3 L298.0,412.6 L299.4,422.5 L303.0,421.1 L303.7,435.3 L307.2,436.0 L308.7,425.4 L313.6,422.5 L317.9,425.4 L322.1,429.6 L325.7,435.3 L327.8,443.8 L329.9,442.4 L332.0,426.8 L334.2,415.4 L337.0,410.0 L339.1,408.8 L343.4,422.5 L345.6,429.3 L347.6,409.8 L351.0,412.0 L352.7,422.5 L353.9,434.6 L357.6,430.3 L361.0,425.9 L366.1,422.4 L370.3,415.4 L371.7,405.5 L377.4,404.1 L384.5,403.4 L388.4,403.5 L392.7,406.6 L394.8,413.7 L396.9,420.1 L400.5,421.9 L403.3,412.3 L406.1,396.7 L409.4,391.7 L412.2,399.5 L415.4,408.7 L418.9,410.2 L421.7,417.9 L424.6,423.6 L427.4,427.9 L430.2,431.4 L433.1,424.3 L435.6,420.8 L438.0,432.1 L440.2,439.9 L443.7,442.3 L447.2,439.9 L449.4,436.4 L452.2,435.2 L454.3,447.7 L455.7,460.5 L456.7,470.0 L465.5,492.4 L469.1,477.5 L471.5,498.0 L472.6,515.0 L477.6,517.9 L479.0,530.6 L482.5,535.6 L486.1,542.0 L489.6,546.5 L492.4,546.9 L495.0,542.0 L496.7,527.8 L498.8,517.9 L501.6,520.7 L503.8,531.3 L508.0,532.3 L510.2,520.7 L511.6,506.5 L514.4,503.0 L519.4,506.5 L522.2,512.2 L524.3,522.1 L526.5,527.8 L530.7,527.5 L532.1,515.0 L532.8,499.4 L536.4,497.7 L539.2,486.7 L541.3,472.5 L544.9,469.7 L547.7,466.8 L554.8,467.6 L559.0,472.5 L561.9,483.9 L566.1,489.5 L569.0,496.9 L572.5,496.6 L574.4,486.7 L576.1,472.5 L579.6,470.4 L582.4,478.2 L584.6,486.7 L588.8,488.4 L593.1,487.4 L599.8,477.2 L602.7,472.2 L603.8,462.3 L607.6,460.9 L610.0,471.5 L612.3,472.2 L614.7,463.7 L619.7,463.4 L621.5,452.4 L623.2,447.8 L626.1,450.2 L629.6,447.0 L631.7,460.9 L634.6,471.5 L639.5,472.2 L642.4,467.7 L645.9,475.7 L649.4,472.2 L652.3,460.9 L654.4,454.5 L657.2,453.8 L659.4,448.8 L663.6,448.4 L666.5,460.9 L668.6,473.6 L671.4,473.6 L674.2,468.7 L677.1,469.4 L678.5,482.1 L679.9,497.7 L683.5,498.4 L688.4,494.2 L692.0,490.6 L693.4,485.0 L699.0,482.8 L703.3,486.4 L706.1,491.3 L709.7,492.7 L711.1,503.4 L713.2,511.9 L717.5,514.7 L724.6,514.7 L726.7,520.0 L730.6,536.7 L732.4,553.4 L734.3,566.4 L735.2,581.2 L737.1,585.9 L740.8,577.5 L744.5,581.2 L747.3,590.5 L751.9,579.0 L756.5,581.2 L760.3,587.2 L764.0,579.4 L767.7,574.7 L771.4,581.2 L774.2,594.2 L776.9,605.3 L780.6,614.6 L784.4,617.4 L789.0,610.9 L792.7,616.5 L794.5,620.7 L800.1,618.3 L804.7,616.5 L806.6,603.5 L807.5,588.7 L809.4,577.5 L812.2,575.7 L815.9,580.3 L818.7,588.7 L821.4,592.0 L826.1,583.1 L831.6,580.3 L835.3,573.8 L837.2,562.7 L840.9,556.2 L843.7,554.9 L847.4,560.5 L852.0,557.1 L859.1,556.3 L862.7,559.0 L864.1,568.2 L867.6,572.4 L869.8,580.9 L871.2,586.6 L875.4,585.2 L879.0,588.0 L882.5,590.2 L884.6,585.2 L886.1,575.3 L889.6,569.6 L891.7,564.5 L896.0,565.1 L899.5,565.4 L903.8,565.1 L906.6,568.2 L910.2,562.5 L912.3,557.6 L915.1,555.4 L916.5,541.3 L920.1,537.7 L923.6,541.3 L925.0,555.4 L927.9,561.4 L932.1,558.5 L936.4,561.8 L939.2,568.2 L941.3,579.5 L942.7,588.0 L946.3,589.4 L950.5,583.8 L952.7,572.4 L956.2,572.2 L958.3,573.6 L960.5,566.1 L963.3,564.6 L966.1,569.6 L967.6,579.5 L970.4,586.6 L973.2,593.7 L976.1,594.4 L978.2,583.8 L978.9,573.9 L983.1,577.8 L987.4,578.1 L990.7,577.7 L995.3,580.7 L999.3,577.1 L1003.2,578.1 L1004.5,587.9 L1007.1,591.9 L1010.4,595.1 L1011.0,608.9 L1012.3,623.3 L1013.6,633.7 L1015.0,635.4 L1018.2,628.5 L1020.8,628.1 L1023.5,632.4 L1026.7,637.0 L1029.3,643.2 L1032.6,636.6 L1035.9,639.0 L1038.5,644.2 L1041.8,645.5 L1043.7,636.4 L1047.0,635.3 L1050.3,638.7 L1052.2,633.7 L1053.5,615.4 L1056.2,609.9 L1059.4,609.9 L1061.4,615.7 L1064.7,612.8 L1067.3,612.8 L1069.3,618.0 L1071.2,621.3"/>
</g>
<text x="20.31" y="75" font-size="49" font-weight="bold" fill="#011d3b" text-anchor="start" textLength="754.17" lengthAdjust="spacingAndGlyphs">Long-term yields march higher</text>
<text x="19.9" y="142.6" font-size="45.4" font-weight="normal" fill="#011d3b" text-anchor="start" textLength="1040.16" lengthAdjust="spacingAndGlyphs" stroke="#fff" stroke-width="0.41">Unweighted average G10 government bond yields</text>
<rect x="23" y="201" width="39.6" height="8.6" fill="#011d3b"/>
<rect x="385.6" y="201" width="39" height="8.6" fill="#00c7b1"/>
<text x="70.16" y="218.7" font-size="32.7" font-weight="normal" fill="#011d3b" text-anchor="start" textLength="296.66" lengthAdjust="spacingAndGlyphs" stroke="#fff" stroke-width="0.29">30-year bond yield</text>
<text x="431.49" y="218.7" font-size="32.7" font-weight="normal" fill="#011d3b" text-anchor="start" textLength="279.57" lengthAdjust="spacingAndGlyphs" stroke="#fff" stroke-width="0.29">2-year bond yield</text>
<text x="19.44" y="296.2" font-size="34" font-weight="normal" fill="#011d3b" text-anchor="start" textLength="65.71" lengthAdjust="spacingAndGlyphs" stroke="#fff" stroke-width="0.31">4.25</text>
<text x="19.44" y="345.5" font-size="34" font-weight="normal" fill="#011d3b" text-anchor="start" textLength="65.71" lengthAdjust="spacingAndGlyphs" stroke="#fff" stroke-width="0.31">4.00</text>
<text x="19.44" y="394.8" font-size="34" font-weight="normal" fill="#011d3b" text-anchor="start" textLength="65.71" lengthAdjust="spacingAndGlyphs" stroke="#fff" stroke-width="0.31">3.75</text>
<text x="19.44" y="444.1" font-size="34" font-weight="normal" fill="#011d3b" text-anchor="start" textLength="65.71" lengthAdjust="spacingAndGlyphs" stroke="#fff" stroke-width="0.31">3.50</text>
<text x="19.44" y="493.5" font-size="34" font-weight="normal" fill="#011d3b" text-anchor="start" textLength="65.71" lengthAdjust="spacingAndGlyphs" stroke="#fff" stroke-width="0.31">3.25</text>
<text x="19.44" y="542.8" font-size="34" font-weight="normal" fill="#011d3b" text-anchor="start" textLength="65.71" lengthAdjust="spacingAndGlyphs" stroke="#fff" stroke-width="0.31">3.00</text>
<text x="19.44" y="592.1" font-size="34" font-weight="normal" fill="#011d3b" text-anchor="start" textLength="65.71" lengthAdjust="spacingAndGlyphs" stroke="#fff" stroke-width="0.31">2.75</text>
<text x="19.44" y="641.5" font-size="34" font-weight="normal" fill="#011d3b" text-anchor="start" textLength="65.71" lengthAdjust="spacingAndGlyphs" stroke="#fff" stroke-width="0.31">2.50</text>
<text x="19.44" y="690.8" font-size="34" font-weight="normal" fill="#011d3b" text-anchor="start" textLength="65.71" lengthAdjust="spacingAndGlyphs" stroke="#fff" stroke-width="0.31">2.25</text>
<text x="153.8" y="760.2" font-size="34.5" font-weight="normal" fill="#011d3b" text-anchor="start" textLength="56.78" lengthAdjust="spacingAndGlyphs" stroke="#fff" stroke-width="0.31">Apr</text>
<text x="263.32" y="760.2" font-size="34.5" font-weight="normal" fill="#011d3b" text-anchor="start" textLength="42.36" lengthAdjust="spacingAndGlyphs" stroke="#fff" stroke-width="0.31">Jul</text>
<text x="358.94" y="760.2" font-size="34.5" font-weight="normal" fill="#011d3b" text-anchor="start" textLength="56.52" lengthAdjust="spacingAndGlyphs" stroke="#fff" stroke-width="0.31">Oct</text>
<text x="464.17" y="760.2" font-size="34.5" font-weight="normal" fill="#011d3b" text-anchor="start" textLength="52.44" lengthAdjust="spacingAndGlyphs" stroke="#fff" stroke-width="0.31">Jan</text>
<text x="565.18" y="760.2" font-size="34.5" font-weight="normal" fill="#011d3b" text-anchor="start" textLength="56.38" lengthAdjust="spacingAndGlyphs" stroke="#fff" stroke-width="0.31">Apr</text>
<text x="674.79" y="760.2" font-size="34.5" font-weight="normal" fill="#011d3b" text-anchor="start" textLength="42.1" lengthAdjust="spacingAndGlyphs" stroke="#fff" stroke-width="0.31">Jul</text>
<text x="771.98" y="760.2" font-size="34.5" font-weight="normal" fill="#011d3b" text-anchor="start" textLength="56.18" lengthAdjust="spacingAndGlyphs" stroke="#fff" stroke-width="0.31">Oct</text>
<text x="878.34" y="760.2" font-size="34.5" font-weight="normal" fill="#011d3b" text-anchor="start" textLength="53.18" lengthAdjust="spacingAndGlyphs" stroke="#fff" stroke-width="0.31">Jan</text>
<text x="978.13" y="760.2" font-size="34.5" font-weight="normal" fill="#011d3b" text-anchor="start" textLength="57.65" lengthAdjust="spacingAndGlyphs" stroke="#fff" stroke-width="0.31">Apr</text>
<text x="245.56" y="814.8" font-size="34.5" font-weight="normal" fill="#011d3b" text-anchor="start" textLength="76.17" lengthAdjust="spacingAndGlyphs" stroke="#fff" stroke-width="0.31">2023</text>
<text x="658.63" y="814.8" font-size="34.5" font-weight="normal" fill="#011d3b" text-anchor="start" textLength="76.03" lengthAdjust="spacingAndGlyphs" stroke="#fff" stroke-width="0.31">2024</text>
<text x="957.63" y="814.8" font-size="34.5" font-weight="normal" fill="#011d3b" text-anchor="start" textLength="77.91" lengthAdjust="spacingAndGlyphs" stroke="#fff" stroke-width="0.31">2025</text>
<text x="1129.3" y="362.9" font-size="30.6" font-weight="normal" fill="#011d3b" text-anchor="start" textLength="66.7" lengthAdjust="spacingAndGlyphs" stroke="#fff" stroke-width="0.28">3.9%</text>
<text x="1129.48" y="634.9" font-size="30.6" font-weight="normal" fill="#00c7b1" text-anchor="start" textLength="66.83" lengthAdjust="spacingAndGlyphs" stroke="#fff" stroke-width="0.28">2.5%</text>
<text x="28.33" y="878.3" font-size="30" font-weight="normal" fill="#011d3b" text-anchor="start" textLength="398.76" lengthAdjust="spacingAndGlyphs" stroke="#fff" stroke-width="0.27">Source: Convera, Macrobond</text>
<rect x="0" y="915.3" width="1231" height="1.7" fill="#111"/>
</svg>
</body></html>
